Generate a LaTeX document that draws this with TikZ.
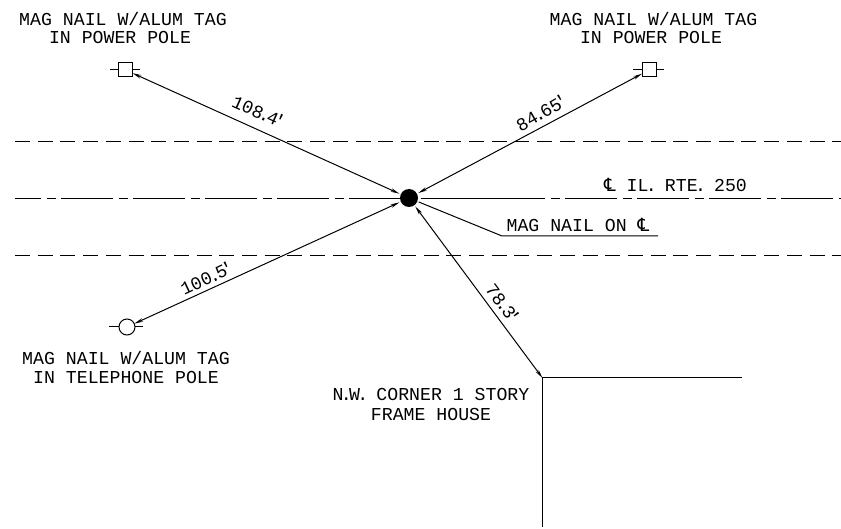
\documentclass[tikz,border=0pt]{standalone}
\usepackage{fontspec}
\setmonofont{Liberation Mono}
\newfontfamily\clfont{DejaVu Sans}
\usetikzlibrary{arrows.meta}
\tikzset{
  ln/.style={line width=1pt,black},
  cad/.style={font=\ttfamily\fontsize{18.2}{20}\selectfont,inner sep=0pt,outer sep=0pt,anchor=center},
  dimline/.style={ln,{Stealth[length=9pt,width=3.6pt]}-{Stealth[length=9pt,width=3.6pt]}},
  roadedge/.style={ln,dash pattern=on 15pt off 7.7pt},
  centerln/.style={ln,dash pattern=on 52pt off 6pt on 9pt off 5pt,dash phase=26pt},
  sqmark/.style={draw,line width=1pt,fill=white,minimum size=14pt,inner sep=0pt,outer sep=0pt},
  cmark/.style={circle,draw,line width=1pt,fill=white,minimum size=16pt,inner sep=0pt,outer sep=0pt},
  nail/.style={circle,fill=black,minimum size=18pt,inner sep=0pt,outer sep=1.5pt}
}
\newcommand{\clsym}{{\clfont\char"2104}}
\newcommand{\pd}{\makebox[5.5pt][c]{.}}
\newcommand{\ftmark}{\makebox[3pt][c]{'}}
\begin{document}
\begin{tikzpicture}[x=1pt,y=-1pt]
\useasboundingbox[fill=white] (0,0) rectangle (841,529);
% road lines
\coordinate (eaL) at (15,141.5); \coordinate (eaR) at (841,141.5);
\coordinate (ebL) at (15,256); \coordinate (ebR) at (841,256);
\coordinate (clL) at (15,198.5); \coordinate (clR) at (841,198.5);
\coordinate (clA) at (421,198.5); \coordinate (clB) at (495,198.5);
\draw[roadedge] (eaL) -- (eaR);
\draw[roadedge] (ebL) -- (ebR);
\draw[centerln] (clL) -- (clR);
\draw[ln] (clA) -- (clB);
% marks
\node[nail] (nail) at (409,198) {};
\node[sqmark] (pl) at (125.5,70) {};
\node[sqmark] (pr) at (649,70) {};
\node[cmark] (tel) at (127,327) {};
\coordinate (plA) at (110,70); \coordinate (plB) at (140,70);
\coordinate (prA) at (633,70); \coordinate (prB) at (664,70);
\coordinate (telA) at (109,327); \coordinate (telB) at (143,327);
\draw[ln] (plA) -- (pl.west) (pl.east) -- (plB);
\draw[ln] (prA) -- (pr.west) (pr.east) -- (prB);
\draw[ln] (telA) -- (tel.west) (tel.east) -- (telB);
% house
\coordinate (corner) at (542.5,378);
\coordinate (hE) at (742,378);
\coordinate (hS) at (542.5,527);
\draw[ln] (hE) -- (corner) -- (hS);
% dimensions
\draw[dimline] (pl) -- (nail);
\draw[dimline] (pr) -- (nail);
\draw[dimline] (tel) -- (nail);
\draw[dimline] (corner) -- (nail);
% leader
\coordinate (ldA) at (502,236); \coordinate (ldB) at (658,236);
\draw[ln] (nail) -- (ldA) -- (ldB);
% dimension labels
\node[cad,rotate=-24] (d1) at (257,111) {108\pd4\ftmark};
\node[cad,rotate=30] (d2) at (540,113.5) {84\pd65\ftmark};
\node[cad,rotate=25] (d3) at (205,279) {100\pd5\ftmark};
\node[cad,rotate=-53.5] (d4) at (502,302) {78\pd3\ftmark};
% text
\node[cad] (t1a) at (123,19) {MAG NAIL W/ALUM TAG};
\node[cad] (t1b) at (120,38) {IN POWER POLE};
\node[cad] (t2a) at (653.5,19) {MAG NAIL W/ALUM TAG};
\node[cad] (t2b) at (651,38) {IN POWER POLE};
\node[cad] (t3a) at (126,358) {MAG NAIL W/ALUM TAG};
\node[cad] (t3b) at (126,378) {IN TELEPHONE POLE};
\node[cad] (t4a) at (431,395) {N\pd W\pd{} CORNER 1 STORY};
\node[cad] (t4b) at (431,415) {FRAME HOUSE};
\node[cad] (t5) at (578,225) {MAG NAIL ON \clsym};
\node[cad] (t6) at (675.5,185) {\clsym{} IL\pd{} RTE\pd{} 250};
\end{tikzpicture}
\end{document}
